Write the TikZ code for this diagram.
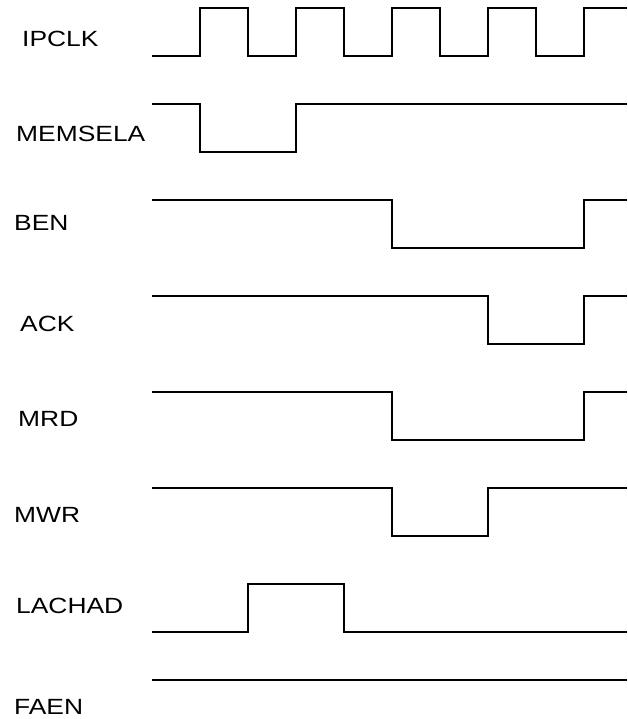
\documentclass[tikz,border=0pt]{standalone}
\usepackage{fontspec}
\setmainfont{Liberation Sans}

\begin{document}
\begin{tikzpicture}[x=1pt, y=-1pt, line width=2pt,
    siglabel/.style={anchor=base west, inner sep=0pt,
        font=\fontsize{22}{24}\selectfont, xscale=1.2}]

    \useasboundingbox (0,0) rectangle (627,719);

    % signal names
    \node[siglabel] (ipclk)   at (21,46.7)  {IPCLK};
    \node[siglabel] (memsela) at (15,141.7) {MEMSELA};
    \node[siglabel] (ben)     at (13,230.7) {BEN};
    \node[siglabel] (ack)     at (19,331)   {ACK};
    \node[siglabel] (mrd)     at (17,426.7) {MRD};
    \node[siglabel] (mwr)     at (13,522)   {MWR};
    \node[siglabel] (lachad)  at (15,613)   {LACHAD};
    \node[siglabel] (faen)    at (13,714)   {FAEN};

    % IPCLK
    \draw (152,56) -- (200,56)
        \foreach \t in {200,296,392,488} {
            -- (\t,8) -- (\t+48,8) -- (\t+48,56) -- (\t+96,56)
        } -- (584,8) -- (627,8);

    % MEMSELA
    \draw (152,104) -- (200,104) -- (200,152) -- (296,152) -- (296,104) -- (627,104);

    % BEN
    \draw (152,200) -- (392,200) -- (392,248) -- (584,248) -- (584,200) -- (627,200);

    % ACK
    \draw (152,296) -- (488,296) -- (488,344) -- (584,344) -- (584,296) -- (627,296);

    % MRD
    \draw (152,392) -- (392,392) -- (392,440) -- (584,440) -- (584,392) -- (627,392);

    % MWR
    \draw (152,488) -- (392,488) -- (392,536) -- (488,536) -- (488,488) -- (627,488);

    % LACHAD
    \draw (152,632) -- (248,632) -- (248,584) -- (344,584) -- (344,632) -- (627,632);

    % FAEN
    \draw (152,680) -- (627,680);

\end{tikzpicture}
\end{document}
